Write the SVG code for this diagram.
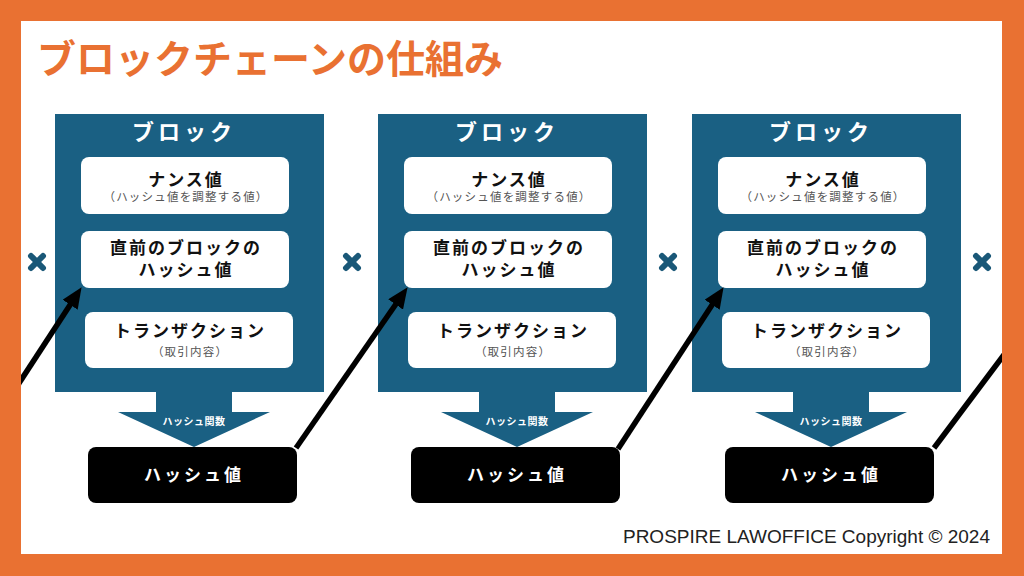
<svg xmlns="http://www.w3.org/2000/svg" width="1024" height="576" viewBox="0 0 1024 576">
<style>
.jp{font-family:"Noto Sans CJK JP","Noto Sans",sans-serif;}
.blk{fill:#1a6083;}
.card{fill:#ffffff;}
.btitle{font-size:22px;font-weight:700;fill:#ffffff;letter-spacing:4px;}
.main{font-size:17px;font-weight:700;fill:#111111;letter-spacing:2px;}
.sub{font-size:11.5px;fill:#555555;letter-spacing:1.2px;}
.hf{font-size:10px;font-weight:700;fill:#ffffff;letter-spacing:0.5px;}
.hv{fill:#000000;}
.hvt{font-size:17px;font-weight:700;fill:#ffffff;letter-spacing:3px;}
.conn{stroke:#000000;stroke-width:5.5;fill:none;}
.xm{stroke:#1a5878;stroke-width:6;stroke-linecap:round;}
</style>
<defs>
<marker id="ah" markerUnits="userSpaceOnUse" markerWidth="22" markerHeight="18" viewBox="0 0 22 18" refX="4" refY="9" orient="auto">
<path d="M0,0 L21,9 L0,18 z" fill="#000000"/>
</marker>
<clipPath id="inner"><rect x="21" y="21" width="981" height="533"/></clipPath>
<g id="blocktpl">
<rect class="blk" x="0" y="0" width="269" height="278"/>
<text class="jp btitle" x="129" y="26" text-anchor="middle">ブロック</text>
<rect class="card" x="26" y="43" width="208" height="57" rx="8"/>
<text class="jp main" x="131" y="72" text-anchor="middle">ナンス値</text>
<text class="jp sub" x="131" y="87" text-anchor="middle">（ハッシュ値を調整する値）</text>
<rect class="card" x="26" y="117" width="208" height="57" rx="8"/>
<text class="jp main" x="131" y="140" text-anchor="middle">直前のブロックの</text>
<text class="jp main" x="131" y="162" text-anchor="middle">ハッシュ値</text>
<rect class="card" x="30" y="198" width="208" height="56" rx="8"/>
<text class="jp main" x="135" y="223" text-anchor="middle">トランザクション</text>
<text class="jp sub" x="135" y="242" text-anchor="middle">（取引内容）</text>
<path class="blk" d="M101,277 L177,277 L177,298 L215,298 L139,333 L63,298 L101,298 z"/>
<text class="jp hf" x="139" y="311" text-anchor="middle">ハッシュ関数</text>
<rect class="hv" x="33" y="333" width="209" height="56" rx="8"/>
<text class="jp hvt" x="139" y="367" text-anchor="middle">ハッシュ値</text>
</g>
</defs>
<rect x="0" y="0" width="1024" height="576" fill="#e97132"/>
<rect x="21" y="21" width="981" height="533" fill="#ffffff"/>
<text class="jp" x="37" y="73" font-size="39" font-weight="700" fill="#e97132">ブロックチェーンの仕組み</text>
<g id="block1" transform="translate(55,114)"><use href="#blocktpl"/></g>
<g id="block2" transform="translate(378,114)"><use href="#blocktpl"/></g>
<g id="block3" transform="translate(692,114)"><use href="#blocktpl"/></g>
<g id="markers">
<g id="x1" transform="translate(37,262)"><line class="xm" x1="-6" y1="-6" x2="6" y2="6"/><line class="xm" x1="6" y1="-6" x2="-6" y2="6"/></g>
<g id="x2" transform="translate(352,262)"><line class="xm" x1="-6" y1="-6" x2="6" y2="6"/><line class="xm" x1="6" y1="-6" x2="-6" y2="6"/></g>
<g id="x3" transform="translate(668,262)"><line class="xm" x1="-6" y1="-6" x2="6" y2="6"/><line class="xm" x1="6" y1="-6" x2="-6" y2="6"/></g>
<g id="x4" transform="translate(982,262)"><line class="xm" x1="-6" y1="-6" x2="6" y2="6"/><line class="xm" x1="6" y1="-6" x2="-6" y2="6"/></g>
</g>
<g id="connectors" clip-path="url(#inner)">
<line class="conn" x1="-5" y1="420" x2="72.3" y2="301.4" marker-end="url(#ah)"/>
<line class="conn" x1="296" y1="448" x2="397.9" y2="301.2" marker-end="url(#ah)"/>
<line class="conn" x1="618" y1="449" x2="714.3" y2="301.4" marker-end="url(#ah)"/>
<line class="conn" x1="934" y1="448" x2="1012" y2="344"/>
</g>
<text x="990" y="543" font-family="Liberation Sans, Arial, sans-serif" font-size="19" fill="#222222" text-anchor="end">PROSPIRE LAWOFFICE Copyright © 2024</text>
</svg>
